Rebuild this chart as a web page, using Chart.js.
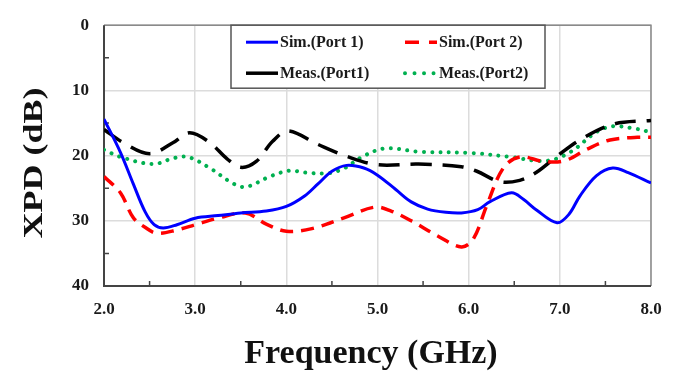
<!DOCTYPE html>
<html>
<head>
<meta charset="utf-8">
<script src="https://cdn.jsdelivr.net/npm/chart.js@4"></script>
<style>
  html, body { margin: 0; padding: 0; background: #fff; }
  #wrap { width: 688px; height: 376px; }
</style>
</head>
<body>
<div id="wrap"><canvas id="c" width="688" height="376"></canvas></div>
<script>
// readings taken off the plot (GHz, dB)
const freqSim1 = [2.0, 2.18, 2.32, 2.45, 2.55, 2.65, 2.8, 3.0, 3.25, 3.5, 3.78, 4.0, 4.2, 4.35, 4.5, 4.66, 4.85, 5.0, 5.2, 5.37, 5.55, 5.75, 5.92, 6.1, 6.23, 6.47, 6.6, 6.74, 6.97, 7.1, 7.22, 7.4, 7.58, 7.75, 8.0];
const xpdSim1  = [14.4, 19.5, 24.3, 28.6, 30.6, 31.1, 30.6, 29.6, 29.2, 28.8, 28.5, 27.8, 26.2, 24.3, 22.4, 21.5, 21.9, 23.0, 25.2, 27.1, 28.2, 28.7, 28.8, 28.3, 27.1, 25.7, 26.7, 28.3, 30.3, 29.0, 26.2, 23.1, 21.9, 22.6, 24.2];

const freqSim2 = [2.0, 2.18, 2.32, 2.45, 2.58, 2.8, 3.0, 3.25, 3.55, 3.78, 4.0, 4.28, 4.64, 4.97, 5.15, 5.37, 5.67, 5.92, 6.05, 6.2, 6.38, 6.56, 6.82, 7.05, 7.3, 7.55, 7.85, 8.0];
const xpdSim2  = [23.2, 25.7, 29.5, 31.0, 31.9, 31.4, 30.6, 29.6, 28.8, 30.5, 31.6, 31.2, 29.5, 27.9, 28.5, 30.0, 32.4, 34.0, 32.8, 27.6, 21.9, 20.2, 20.9, 20.8, 19.0, 17.6, 17.2, 17.2];

const freqMeas1 = [2.0, 2.21, 2.5, 2.76, 2.94, 3.16, 3.35, 3.5, 3.67, 3.85, 4.02, 4.35, 4.68, 5.0, 5.45, 5.92, 6.09, 6.34, 6.56, 6.74, 6.96, 7.22, 7.58, 8.0];
const xpdMeas1  = [16.0, 18.0, 19.7, 18.0, 16.5, 18.0, 20.5, 21.8, 20.9, 17.8, 16.2, 18.3, 20.2, 21.4, 21.3, 21.7, 22.4, 24.0, 23.8, 22.6, 20.2, 17.6, 15.2, 14.6];

const freqMeas2 = [2.0, 2.18, 2.54, 2.76, 2.92, 3.16, 3.42, 3.56, 3.82, 4.04, 4.2, 4.46, 4.64, 4.83, 5.08, 5.45, 6.03, 6.45, 6.85, 7.11, 7.4, 7.58, 7.8, 8.0];
const xpdMeas2  = [19.1, 20.2, 21.3, 20.4, 20.2, 21.9, 24.3, 24.8, 23.2, 22.3, 22.6, 22.7, 21.9, 20.2, 18.9, 19.4, 19.6, 20.2, 20.8, 19.5, 16.4, 15.5, 15.8, 16.4];

const seriesLabels = ['Sim.(Port 1)', 'Sim.(Port 2)', 'Meas.(Port1)', 'Meas.(Port2)'];
const xTicks = [2, 3, 4, 5, 6, 7, 8];
const yTicks = [0, 10, 20, 30, 40];

const SERIF = '"Liberation Serif", "Times New Roman", serif';
const pts = (xs, ys) => xs.map((x, i) => ({ x: x, y: ys[i] }));

const lineBase = { pointRadius: 0, fill: false, tension: 0.35 };

// legend inside the plot, two columns
const legendBox = {
  id: 'legendBox',
  afterDatasetsDraw(chart) {
    const { ctx, chartArea: ca } = chart;
    const x0 = ca.left + 127, y0 = ca.top, w = 314, h = 63;
    ctx.save();
    ctx.fillStyle = '#fff';
    ctx.fillRect(x0, y0, w, h);
    ctx.strokeStyle = '#555';
    ctx.lineWidth = 1.5;
    ctx.strokeRect(x0, y0, w, h);
    const slots = [
      { ds: 0, x: x0 + 15, y: y0 + 17, dash: [] },
      { ds: 1, x: x0 + 174, y: y0 + 17, dash: [14, 10] },
      { ds: 2, x: x0 + 15, y: y0 + 48, dash: [] },
      { ds: 3, x: x0 + 174, y: y0 + 48, dash: [0.01, 9.5] }
    ];
    slots.forEach(s => {
      const d = chart.data.datasets[s.ds];
      ctx.beginPath();
      ctx.setLineDash(s.dash);
      ctx.lineCap = d.borderCapStyle || 'butt';
      ctx.strokeStyle = d.borderColor;
      ctx.lineWidth = d.borderWidth;
      ctx.moveTo(s.x, s.y);
      ctx.lineTo(s.x + 32, s.y);
      ctx.stroke();
      ctx.setLineDash([]);
      ctx.fillStyle = '#1a1a1a';
      ctx.font = 'bold 16px ' + SERIF;
      ctx.textAlign = 'left';
      ctx.textBaseline = 'middle';
      ctx.fillText(d.label, s.x + 34, s.y + 1);
    });
    ctx.restore();
  }
};

// frame, inward minor ticks and axis titles
const frame = {
  id: 'frame',
  beforeDatasetsDraw(chart) {
    const { ctx, chartArea: ca, scales } = chart;
    ctx.save();
    ctx.strokeStyle = '#8a8a8a';
    ctx.lineWidth = 1.5;
    ctx.beginPath();
    ctx.moveTo(ca.left, ca.top); ctx.lineTo(ca.right, ca.top); ctx.lineTo(ca.right, ca.bottom);
    ctx.stroke();
    ctx.strokeStyle = '#444';
    ctx.lineWidth = 2;
    ctx.beginPath();
    ctx.moveTo(ca.left, ca.top); ctx.lineTo(ca.left, ca.bottom); ctx.lineTo(ca.right, ca.bottom);
    ctx.stroke();
    ctx.lineWidth = 1.5;
    ctx.beginPath();
    for (let v = 2.5; v < 8; v += 1) {
      const px = scales.x.getPixelForValue(v);
      ctx.moveTo(px, ca.bottom); ctx.lineTo(px, ca.bottom - 5);
    }
    for (let v = 5; v < 40; v += 10) {
      const py = scales.y.getPixelForValue(v);
      ctx.moveTo(ca.left, py); ctx.lineTo(ca.left + 5, py);
    }
    ctx.stroke();
    ctx.restore();
  },
  afterDraw(chart) {
    const { ctx } = chart;
    ctx.save();
    ctx.fillStyle = '#111';
    ctx.font = 'bold 34px ' + SERIF;
    ctx.textAlign = 'center';
    ctx.textBaseline = 'alphabetic';
    ctx.fillText('Frequency (GHz)', 371, 363);
    ctx.translate(33, 163);
    ctx.rotate(-Math.PI / 2);
    ctx.scale(1, 0.78);
    ctx.font = 'bold 36px ' + SERIF;
    ctx.textBaseline = 'middle';
    ctx.fillText('XPD (dB)', 0, 2);
    ctx.restore();
  }
};

new Chart(document.getElementById('c'), {
  type: 'line',
  data: {
    datasets: [
      Object.assign({}, lineBase, { label: seriesLabels[0], data: pts(freqSim1, xpdSim1), borderColor: '#0000ff', borderWidth: 3 }),
      Object.assign({}, lineBase, { label: seriesLabels[1], data: pts(freqSim2, xpdSim2), borderColor: '#ff0000', borderWidth: 3.5, borderDash: [13, 8] }),
      Object.assign({}, lineBase, { label: seriesLabels[2], data: pts(freqMeas1, xpdMeas1), borderColor: '#000000', borderWidth: 3.5, borderDash: [21, 11] }),
      Object.assign({}, lineBase, { label: seriesLabels[3], data: pts(freqMeas2, xpdMeas2), borderColor: '#00b050', borderWidth: 4, borderDash: [0.01, 8.3], borderCapStyle: 'round' })
    ]
  },
  options: {
    responsive: false,
    animation: false,
    events: [],
    layout: { padding: { top: 8, right: 37, left: 0, bottom: 0 } },
    plugins: { legend: { display: false }, tooltip: { enabled: false } },
    scales: {
      x: {
        type: 'linear', min: 2, max: 8,
        afterBuildTicks: s => { s.ticks = xTicks.map(v => ({ value: v })); },
        afterFit: s => { s.height = 90; },
        grid: { color: '#dcdcdc', lineWidth: 1.5, drawTicks: false },
        border: { display: false },
        ticks: { padding: 13, color: '#1a1a1a', font: { family: SERIF, weight: 'bold', size: 17 }, callback: v => v.toFixed(1) }
      },
      y: {
        type: 'linear', min: 0, max: 40, reverse: true,
        afterBuildTicks: s => { s.ticks = yTicks.map(v => ({ value: v })); },
        afterFit: s => { s.width = 104; },
        grid: { color: '#dcdcdc', lineWidth: 1.5, drawTicks: false },
        border: { display: false },
        ticks: { padding: 15, color: '#1a1a1a', font: { family: SERIF, weight: 'bold', size: 17 } }
      }
    }
  },
  plugins: [frame, legendBox]
});
</script>
</body>
</html>
